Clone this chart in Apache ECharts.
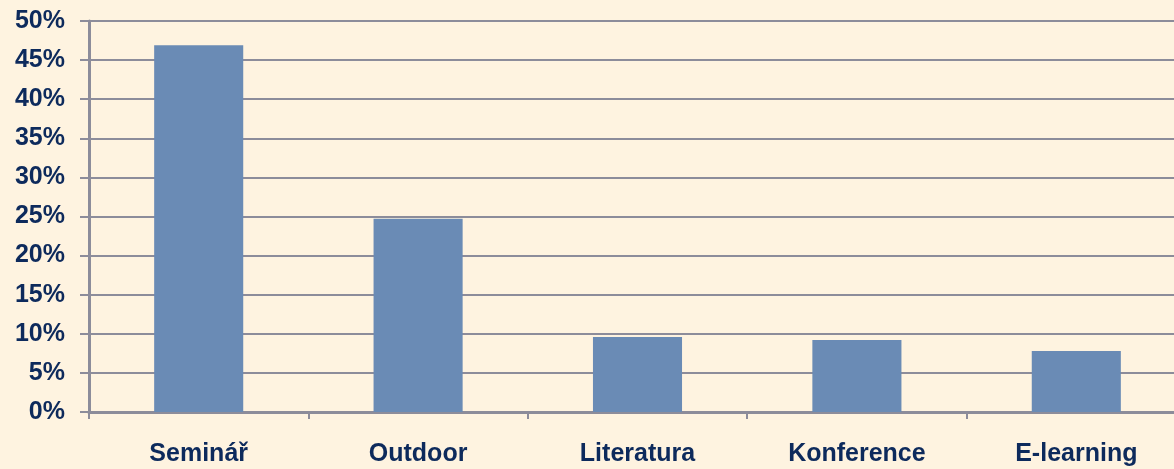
<!DOCTYPE html>
<html><head><meta charset="utf-8">
<script src="https://cdn.jsdelivr.net/npm/echarts@6/dist/echarts.min.js"></script>
<style>html,body{margin:0;padding:0;background:#fef3e0;}#c{width:1174px;height:469px;}</style>
</head><body><div id="c"></div>
<script>
const categories = ['Seminář', 'Outdoor', 'Literatura', 'Konference', 'E-learning'];
const values = [46.9, 24.7, 9.6, 9.2, 7.8];
const yTicks = [0, 5, 10, 15, 20, 25, 30, 35, 40, 45, 50];

const chart = echarts.init(document.getElementById('c'));
const lineColor = '#8c8c9a';
const textColor = '#0d2a5c';
chart.setOption({
  backgroundColor: '#fef3e0',
  animation: false,
  grid: { left: 89, width: 1097, top: 21, bottom: 57, containLabel: false, outerBoundsMode: 'none' },
  xAxis: {
    type: 'category',
    data: categories,
    axisLine: { lineStyle: { color: lineColor, width: 3 } },
    axisTick: { show: true, length: 7, lineStyle: { color: lineColor, width: 2 } },
    axisLabel: { margin: 30, color: textColor, fontSize: 25, fontWeight: 'bold', fontFamily: 'Liberation Sans, Arial, sans-serif' }
  },
  yAxis: {
    type: 'value',
    min: yTicks[0], max: yTicks[yTicks.length - 1], interval: 5,
    axisLine: { show: true, lineStyle: { color: lineColor, width: 3 } },
    axisTick: { show: true, length: 9, lineStyle: { color: lineColor, width: 2 } },
    splitLine: { lineStyle: { color: lineColor, width: 2 } },
    axisLabel: { margin: 24, color: textColor, fontSize: 25, fontWeight: 'bold', fontFamily: 'Liberation Sans, Arial, sans-serif', formatter: v => v + '%' }
  },
  series: [{
    type: 'bar',
    data: values,
    barWidth: '40.6%',
    itemStyle: { color: '#6a8bb5' }
  }]
});
</script></body></html>
